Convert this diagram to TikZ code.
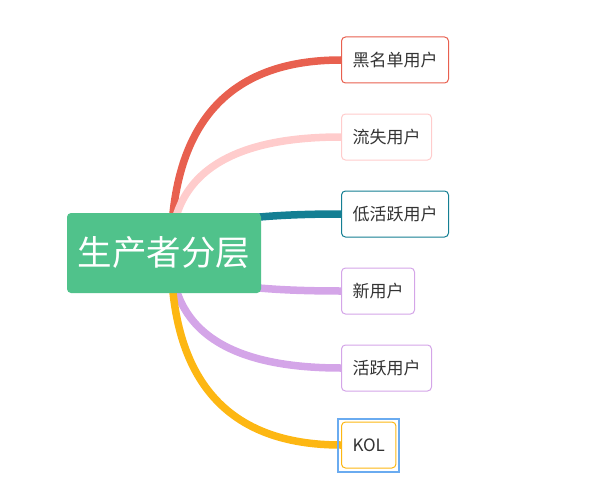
\documentclass[tikz,border=0pt]{standalone}
\usepackage{fontspec}
\newfontfamily\cjk{Noto Sans CJK SC}
\usepackage{xcolor}
\definecolor{mapRoot}{HTML}{50C28B}
\definecolor{mapRed}{HTML}{E8604F}
\definecolor{mapPink}{HTML}{FFCCCC}
\definecolor{mapTeal}{HTML}{147F93}
\definecolor{mapLilac}{HTML}{D4A5E8}
\definecolor{mapYellow}{HTML}{FDB713}
\definecolor{mapSelect}{HTML}{6AABF0}
\definecolor{mapText}{HTML}{333333}
\usetikzlibrary{calc,backgrounds}

\tikzset{
  leaf/.style={draw, rounded corners=4pt, line width=1pt, fill=white, anchor=west,
    minimum height=46pt, inner xsep=11pt, text=mapText,
    font=\cjk\fontsize{17}{20}\selectfont},
  branch/.style={line width=7.5pt},
}

\begin{document}
\begin{tikzpicture}[x=1pt, y=-1pt]
  \useasboundingbox (0,0) rectangle (593,500);
  \node[fill=mapRoot, rounded corners=4pt, minimum width=194pt, minimum height=80pt, text=white, font=\cjk\fontsize{34.5}{40}\selectfont] (root) at (164,253) {生产者分层};
  \coordinate (hub) at ($(root.center)+(7,0)$);
  \node[leaf, draw=mapRed] (blk) at (341,60) {黑名单用户};
  \node[leaf, draw=mapPink] (lost) at (341,137) {流失用户};
  \node[leaf, draw=mapTeal] (low) at (341,214) {低活跃用户};
  \node[leaf, draw=mapLilac] (new) at (341,291) {新用户};
  \node[leaf, draw=mapLilac] (act) at (341,368) {活跃用户};
  \node[leaf, draw=mapYellow] (kol) at (341,445) {KOL};
  \draw[mapSelect, line width=2pt] ($(kol.south west)+(-3,3)$) rectangle ($(kol.north east)+(3,-3)$);
  \begin{scope}[on background layer]
    \draw[branch, mapRed] (hub) .. controls ($(hub)!2/3!(hub|-blk.west)$) and ($(blk.west)!2/3!(hub|-blk.west)$) .. (blk.west);
    \draw[branch, mapPink] (hub) .. controls ($(hub)!2/3!(hub|-lost.west)$) and ($(lost.west)!2/3!(hub|-lost.west)$) .. (lost.west);
    \draw[branch, mapTeal] (hub) .. controls ($(hub)!2/3!(hub|-low.west)$) and ($(low.west)!2/3!(hub|-low.west)$) .. (low.west);
    \draw[branch, mapLilac] (hub) .. controls ($(hub)!2/3!(hub|-new.west)$) and ($(new.west)!2/3!(hub|-new.west)$) .. (new.west);
    \draw[branch, mapLilac] (hub) .. controls ($(hub)!2/3!(hub|-act.west)$) and ($(act.west)!2/3!(hub|-act.west)$) .. (act.west);
    \draw[branch, mapYellow] (hub) .. controls ($(hub)!2/3!(hub|-kol.west)$) and ($(kol.west)!2/3!(hub|-kol.west)$) .. (kol.west);
  \end{scope}
\end{tikzpicture}
\end{document}
